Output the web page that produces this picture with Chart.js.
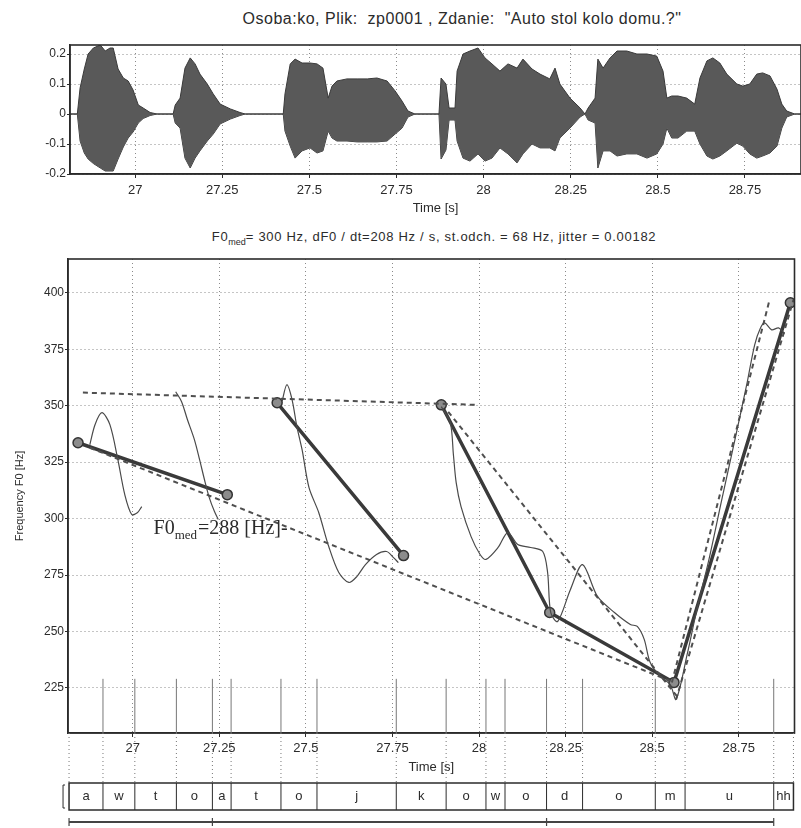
<!DOCTYPE html>
<html>
<head>
<meta charset="utf-8">
<script src="https://cdn.jsdelivr.net/npm/chart.js@4.4.0/dist/chart.umd.min.js"></script>
<style>
  body { margin: 0; background: #fff; width: 801px; height: 828px; position: relative; overflow: hidden;
         font-family: "Liberation Sans", Arial, sans-serif; color: #2b2b2b; }
  .ttl { position: absolute; white-space: pre; transform: translateX(-50%); }
  #title1 { left: 462px; top: 10px; font-size: 16px; letter-spacing: 0.5px; }
  #title2 { left: 434px; top: 229px; font-size: 13px; letter-spacing: 0.7px; }
  #title2 sub { font-size: 9px; letter-spacing: 0; }
  canvas { position: absolute; left: 0; }
  #wave { top: 30px; }
  #f0 { top: 250px; }
</style>
</head>
<body>
<div id="title1" class="ttl">Osoba:ko, Plik:  zp0001 , Zdanie:  "Auto stol kolo domu.?"</div>
<div id="title2" class="ttl">F0<sub>med</sub>= 300 Hz, dF0 / dt=208 Hz / s, st.odch. = 68 Hz, jitter = 0.00182</div>
<canvas id="wave" width="801" height="190"></canvas>
<canvas id="f0" width="801" height="578"></canvas>
<script>
// --- dane: os czasu ---
const X_MIN = 26.813, X_MAX = 28.911;
const timeTicks = [27, 27.25, 27.5, 27.75, 28, 28.25, 28.5, 28.75];
const waveTicks = [-0.2, -0.1, 0, 0.1, 0.2];
const f0Ticks = [225, 250, 275, 300, 325, 350, 375, 400];

// --- przebieg czasowy (obwiednia gorna / dolna) ---
const wavT = [26.814, 26.834, 26.842, 26.854, 26.865, 26.880, 26.900, 26.914, 26.928, 26.937, 26.951, 26.966, 26.980, 26.994, 27.009, 27.023, 27.043, 27.063,
  27.109, 27.115, 27.129, 27.143, 27.158, 27.172, 27.186, 27.207, 27.224, 27.244, 27.273, 27.301, 27.316,
  27.425, 27.430, 27.445, 27.459, 27.479, 27.502, 27.522, 27.539, 27.554, 27.565, 27.579, 27.608, 27.637, 27.666, 27.694, 27.723, 27.746, 27.766, 27.783, 27.803,
  27.872, 27.878, 27.892, 27.901, 27.918,
  27.924, 27.941, 27.961, 27.984, 28.004, 28.024, 28.047, 28.070, 28.096, 28.113, 28.139, 28.162, 28.190, 28.205, 28.219, 28.248, 28.277, 28.291,
  28.300, 28.320, 28.328, 28.343, 28.363, 28.383, 28.411, 28.440, 28.469, 28.497, 28.515, 28.526, 28.540, 28.558, 28.583, 28.606, 28.621, 28.641,
  28.658, 28.678, 28.698, 28.727, 28.744, 28.764, 28.784, 28.801, 28.822, 28.842, 28.856, 28.870, 28.893, 28.911];
const wavTop = [0, 0, 0.087, 0.15, 0.2, 0.22, 0.23, 0.21, 0.22, 0.22, 0.15, 0.12, 0.11, 0.08, 0.03, 0.02, 0.005, 0,
  0, 0.03, 0.053, 0.153, 0.187, 0.167, 0.133, 0.1, 0.067, 0.033, 0.017, 0.005, 0,
  0, 0.067, 0.167, 0.183, 0.17, 0.17, 0.167, 0.153, 0.053, 0.093, 0.11, 0.117, 0.117, 0.117, 0.12, 0.11, 0.077, 0.043, 0.01, 0,
  0, 0.12, 0.1, 0.02, 0.02,
  0.143, 0.2, 0.21, 0.22, 0.187, 0.167, 0.143, 0.167, 0.153, 0.183, 0.15, 0.133, 0.117, 0.153, 0.1, 0.053, 0.02, 0,
  0.02, 0.053, 0.183, 0.153, 0.187, 0.21, 0.21, 0.2, 0.2, 0.193, 0.143, 0.053, 0.06, 0.06, 0.053, 0.033, 0.12, 0.177,
  0.187, 0.17, 0.133, 0.1, 0.093, 0.1, 0.133, 0.137, 0.127, 0.083, 0.033, 0.01, 0, 0];
const wavBot = [0, 0, -0.09, -0.13, -0.15, -0.165, -0.18, -0.19, -0.19, -0.19, -0.15, -0.11, -0.08, -0.06, -0.03, -0.015, -0.005, 0,
  0, -0.03, -0.047, -0.147, -0.18, -0.147, -0.123, -0.09, -0.067, -0.033, -0.017, -0.005, 0,
  0, -0.057, -0.107, -0.147, -0.123, -0.113, -0.13, -0.123, -0.057, -0.08, -0.09, -0.09, -0.093, -0.093, -0.093, -0.09, -0.067, -0.047, -0.01, 0,
  0, -0.15, -0.12, -0.02, -0.02,
  -0.09, -0.147, -0.157, -0.133, -0.157, -0.147, -0.113, -0.133, -0.163, -0.133, -0.1, -0.113, -0.113, -0.123, -0.08, -0.047, -0.01, 0,
  -0.02, -0.03, -0.18, -0.123, -0.123, -0.14, -0.133, -0.133, -0.147, -0.133, -0.1, -0.047, -0.08, -0.08, -0.057, -0.057, -0.1, -0.14,
  -0.15, -0.14, -0.123, -0.097, -0.107, -0.133, -0.147, -0.14, -0.13, -0.107, -0.047, -0.01, 0, 0];

// --- kontur F0 (cztery odcinki dzwieczne) ---
const c1T = [26.876, 26.891, 26.911, 26.934, 26.957, 26.977, 26.997, 27.014, 27.026];
const c1F = [332.7, 341.6, 346.9, 341.6, 326.1, 310.6, 301.8, 302.7, 305.3];
const c2T = [27.124, 27.141, 27.158, 27.178, 27.193, 27.207, 27.221, 27.236, 27.247];
const c2F = [356.2, 351.8, 343.8, 335.0, 326.1, 317.3, 309.3, 303.1, 299.6];
const c3T = [27.431, 27.445, 27.460, 27.474, 27.489, 27.509, 27.537, 27.566, 27.595, 27.624, 27.647, 27.672, 27.704, 27.733, 27.753, 27.767];
const c3F = [351.8, 359.3, 352.7, 340.7, 330.5, 313.7, 302.7, 287.6, 276.1, 271.7, 274.3, 279.6, 284.1, 285.4, 282.7, 280.5];
const c4T = [27.891, 27.917, 27.926, 27.934, 27.948, 27.977, 28.003, 28.020, 28.055, 28.083, 28.112, 28.149, 28.184, 28.198, 28.207, 28.227,
  28.264, 28.299, 28.342, 28.391, 28.437, 28.457, 28.477, 28.494, 28.523, 28.552, 28.569, 28.601, 28.629, 28.664, 28.701, 28.739,
  28.773, 28.796, 28.813, 28.825, 28.845, 28.865, 28.882];
const c4F = [349.6, 342.5, 328.3, 315.9, 305.3, 292.0, 284.1, 281.9, 287.2, 293.8, 288.5, 287.2, 285.4, 276.1, 258.4, 254.4,
  268.6, 279.6, 265.5, 258.4, 253.1, 252.2, 246.5, 236.3, 230.1, 226.5, 219.9, 239.8, 259.7, 281.9, 308.4, 335.0,
  359.3, 377.0, 384.5, 386.7, 383.6, 384.5, 381.9];

// --- stylizacja (odcinki proste z wezlami) ---
const s1T = [26.842, 27.273], s1F = [333.6, 310.6];
const s2T = [27.417, 27.782], s2F = [351.3, 283.6];
const s3T = [27.891, 28.204, 28.563, 28.899], s3F = [350.4, 258.4, 227.4, 395.6];

// --- linie przerywane ---
const levelT = [26.856, 27.989], levelF = [355.8, 350.4];
const trendT = [26.876, 28.563], trendF = [331.4, 227.4];
const fallT = [27.911, 28.572], fallF = [347.3, 221.2];
const riseAT = [28.569, 28.908], riseAF = [219.9, 396.9];
const riseBT = [28.557, 28.839], riseBF = [227.4, 396.9];

// --- segmentacja fonetyczna ---
const segEdges = [26.816, 26.914, 27.006, 27.126, 27.230, 27.284, 27.428, 27.532, 27.761, 27.905, 28.020, 28.075, 28.195, 28.299, 28.509, 28.595, 28.851, 28.908];
const segLabels = ['a', 'w', 't', 'o', 'a', 't', 'o', 'j', 'k', 'o', 'w', 'o', 'd', 'o', 'm', 'u', 'hh'];
const phraseEdges = [26.816, 27.230, 28.195, 28.851];

// --- adnotacja ---
const noteT = 27.06, noteF = 293, noteVal = 288;

const INK = '#2b2b2b';
const GRID = '#8a8a8a';
const SANS = "'Liberation Sans', Arial, sans-serif";
const SERIF = "'Liberation Serif', 'Times New Roman', serif";

const pts = (ts, fs) => ts.map((t, i) => ({ x: t, y: fs[i] }));
const joinPieces = (pieces) => {
    const out = [];
    pieces.forEach(([ts, fs], k) => {
        if (k > 0) out.push({ x: ts[0], y: null });
        out.push(...pts(ts, fs));
    });
    return out;
};

const framePlugin = {
    id: 'frame',
    afterDatasetsDraw(chart) {
        const { ctx, chartArea: a } = chart;
        ctx.save();
        ctx.strokeStyle = INK;
        ctx.lineWidth = 1.6;
        ctx.strokeRect(a.left, a.top, a.right - a.left, a.bottom - a.top);
        ctx.restore();
    }
};

const notePlugin = {
    id: 'note',
    afterDatasetsDraw(chart) {
        const { ctx, scales: { x, y } } = chart;
        let px = x.getPixelForValue(noteT);
        const py = y.getPixelForValue(noteF);
        ctx.save();
        ctx.fillStyle = INK;
        ctx.textBaseline = 'alphabetic';
        ctx.font = `20px ${SERIF}`;
        ctx.fillText('F0', px, py);
        px += ctx.measureText('F0').width;
        ctx.font = `13px ${SERIF}`;
        ctx.fillText('med', px, py + 5);
        px += ctx.measureText('med').width + 1;
        ctx.font = `20px ${SERIF}`;
        ctx.fillText(`=${noteVal} [Hz]-`, px, py);
        ctx.restore();
    }
};

const segPlugin = {
    id: 'segs',
    afterDraw(chart) {
        const { ctx, chartArea, scales: { x, y } } = chart;
        const rowTop = chartArea.bottom + 50, rowBot = rowTop + 27, lineY = rowBot + 12;
        const xs = segEdges.map(t => x.getPixelForValue(t));
        ctx.save();
        // znaczniki granic w polu wykresu
        ctx.strokeStyle = '#777';
        ctx.lineWidth = 1;
        const yMark = y.getPixelForValue(229);
        xs.slice(1, -1).forEach(px => {
            ctx.beginPath(); ctx.moveTo(px, chartArea.bottom); ctx.lineTo(px, yMark); ctx.stroke();
        });
        // kropkowane linie do paska segmentow
        ctx.setLineDash([1, 3]);
        xs.forEach(px => {
            ctx.beginPath(); ctx.moveTo(px, chartArea.bottom); ctx.lineTo(px, rowTop); ctx.stroke();
        });
        ctx.setLineDash([]);
        // pasek segmentow
        ctx.strokeStyle = INK;
        ctx.lineWidth = 1.5;
        ctx.strokeRect(xs[0], rowTop, xs[xs.length - 1] - xs[0], rowBot - rowTop);
        ctx.lineWidth = 1;
        xs.slice(1, -1).forEach(px => {
            ctx.beginPath(); ctx.moveTo(px, rowTop); ctx.lineTo(px, rowBot); ctx.stroke();
        });
        ctx.beginPath();
        ctx.moveTo(xs[0] - 4, rowTop + 2); ctx.lineTo(xs[0] - 6, rowTop + 2);
        ctx.lineTo(xs[0] - 6, rowBot - 2); ctx.lineTo(xs[0] - 4, rowBot - 2);
        ctx.stroke();
        ctx.fillStyle = INK;
        ctx.font = `13px ${SANS}`;
        ctx.textAlign = 'center';
        ctx.textBaseline = 'middle';
        segLabels.forEach((lab, i) => ctx.fillText(lab, (xs[i] + xs[i + 1]) / 2, (rowTop + rowBot) / 2));
        // linia frazy
        const ps = phraseEdges.map(t => x.getPixelForValue(t));
        ctx.lineWidth = 2.2;
        ctx.strokeStyle = '#444';
        ctx.beginPath(); ctx.moveTo(ps[0], lineY); ctx.lineTo(ps[ps.length - 1], lineY); ctx.stroke();
        ctx.lineWidth = 1.2;
        ps.forEach(px => { ctx.beginPath(); ctx.moveTo(px, lineY - 4); ctx.lineTo(px, lineY + 4); ctx.stroke(); });
        ctx.restore();
    }
};

const timeAxis = (height, tickPad, titlePadBottom) => ({
    type: 'linear',
    min: X_MIN,
    max: X_MAX,
    afterBuildTicks: s => { s.ticks = timeTicks.map(v => ({ value: v })); },
    afterFit: s => { s.height = height; },
    ticks: { callback: v => String(v), color: INK, font: { family: SANS, size: 13 }, padding: tickPad, maxRotation: 0, autoSkip: false },
    grid: { color: GRID, tickColor: INK, tickLength: 4, tickBorderDash: [] },
    border: { display: true, color: INK, width: 1.5, dash: [1, 3] },
    title: { display: true, text: 'Time [s]', color: INK, font: { family: SANS, size: 13 }, padding: { top: 0, bottom: titlePadBottom } }
});

// --- wykres 1: przebieg czasowy ---
new Chart(document.getElementById('wave'), {
    type: 'line',
    data: {
        datasets: [
            { data: pts(wavT, wavTop), borderColor: '#3a3a3a', borderWidth: 1, backgroundColor: '#595959', fill: '+1', pointRadius: 0, tension: 0 },
            { data: pts(wavT, wavBot), borderColor: '#3a3a3a', borderWidth: 1, pointRadius: 0, fill: false, tension: 0 }
        ]
    },
    options: {
        responsive: false,
        animation: false,
        events: [],
        layout: { padding: { top: 15, left: 0, right: 0, bottom: 0 } },
        plugins: { legend: { display: false }, tooltip: { enabled: false } },
        scales: {
            x: timeAxis(46, 5, 4),
            y: {
                min: -0.2, max: 0.23,
                afterBuildTicks: s => { s.ticks = waveTicks.map(v => ({ value: v })); },
                afterFit: s => { s.width = 70; },
                ticks: { callback: v => String(v), color: INK, font: { family: SANS, size: 12 }, padding: 1 },
                grid: { color: GRID, tickColor: INK, tickLength: 3 },
                border: { display: true, color: INK, width: 1.5, dash: [1, 3] }
            }
        }
    },
    plugins: [framePlugin]
});

// --- wykres 2: F0 ---
new Chart(document.getElementById('f0'), {
    type: 'line',
    data: {
        datasets: [
            { label: 'F0', data: joinPieces([[c1T, c1F], [c2T, c2F], [c3T, c3F], [c4T, c4F]]),
              borderColor: '#4a4a4a', borderWidth: 1.2, pointRadius: 0, tension: 0.3, spanGaps: false },
            { label: 'linie', data: joinPieces([[levelT, levelF], [trendT, trendF], [fallT, fallF], [riseAT, riseAF], [riseBT, riseBF]]),
              borderColor: '#4f4f4f', borderWidth: 2, borderDash: [5, 4], pointRadius: 0, tension: 0, spanGaps: false },
            { label: 'stylizacja', data: joinPieces([[s1T, s1F], [s2T, s2F], [s3T, s3F]]),
              borderColor: '#3a3a3a', borderWidth: 3.5, tension: 0, spanGaps: false,
              pointRadius: c => (c.raw && c.raw.y != null ? 5 : 0), pointStyle: 'circle',
              pointBackgroundColor: '#8c8c8c', pointBorderColor: '#333', pointBorderWidth: 1.5 }
        ]
    },
    options: {
        responsive: false,
        animation: false,
        events: [],
        layout: { padding: { top: 9, left: 0, right: 3, bottom: 53 } },
        plugins: { legend: { display: false }, tooltip: { enabled: false } },
        scales: {
            x: timeAxis(42, 4, 0),
            y: {
                min: 205, max: 415,
                afterBuildTicks: s => { s.ticks = f0Ticks.map(v => ({ value: v })); },
                afterFit: s => { s.width = 68; },
                ticks: { callback: v => String(v), color: INK, font: { family: SANS, size: 12 }, padding: 1 },
                grid: { color: GRID, tickColor: INK, tickLength: 3 },
                border: { display: true, color: INK, width: 1.5, dash: [1, 3] },
                title: { display: true, text: 'Frequency F0 [Hz]', color: INK, font: { family: SANS, size: 11 }, padding: { top: 13, bottom: 0 } }
            }
        }
    },
    plugins: [framePlugin, notePlugin, segPlugin]
});
</script>
</body>
</html>
